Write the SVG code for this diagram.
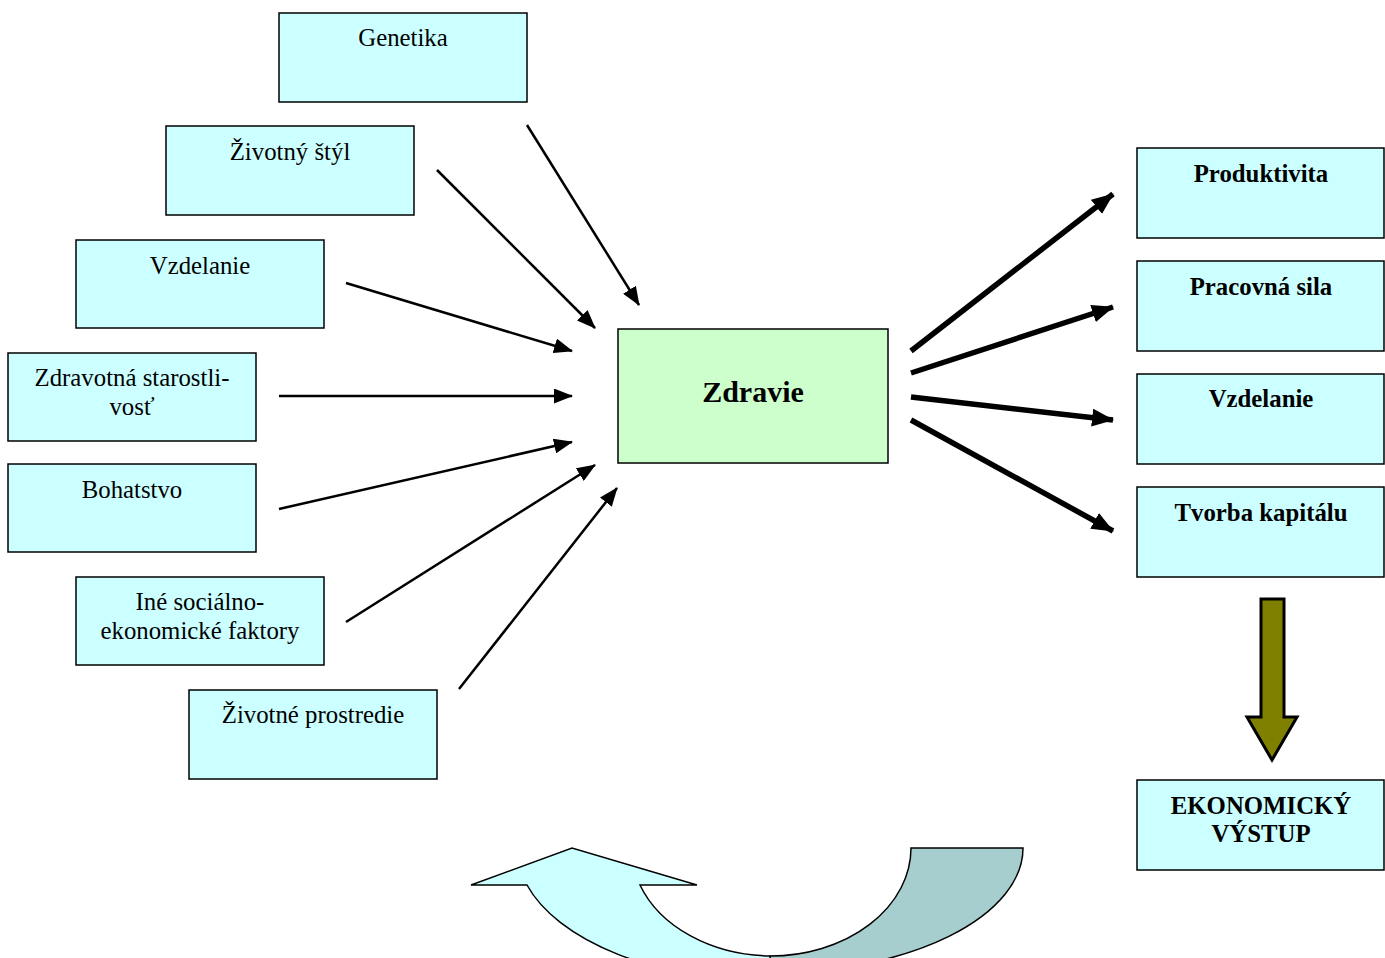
<svg xmlns="http://www.w3.org/2000/svg" width="1385" height="958" viewBox="0 0 1385 958">
<style>
.box{fill:#CCFFFF;stroke:#000;stroke-width:1.5}
.t{font-family:"Liberation Serif","Times New Roman",serif;font-size:24.8px;fill:#000;text-anchor:middle}
.b{font-weight:bold}
.thin{stroke:#000;stroke-width:2.5;fill:none;marker-end:url(#ah)}
.thick{stroke:#000;stroke-width:5.5;fill:none;marker-end:url(#ahb)}
</style>
<defs>
<marker id="ah" markerUnits="userSpaceOnUse" viewBox="0 0 19 15" refX="18" refY="7.5" markerWidth="19" markerHeight="15" orient="auto">
<path d="M0,0 L19,7.5 L0,15 Z" fill="#000"/>
</marker>
<marker id="ahb" markerUnits="userSpaceOnUse" viewBox="0 0 22 18" refX="21" refY="9" markerWidth="22" markerHeight="18" orient="auto">
<path d="M0,0 L22,9 L0,18 Z" fill="#000"/>
</marker>
</defs>
<rect width="1385" height="958" fill="#fff"/>
<g id="genetika"><rect class="box" x="279" y="13" width="248" height="89"/><text class="t" x="403" y="46">Genetika</text></g>
<g id="zivotny-styl"><rect class="box" x="166" y="126" width="248" height="89"/><text class="t" x="290" y="160">Životný štýl</text></g>
<g id="vzdelanie-l"><rect class="box" x="76" y="240" width="248" height="88"/><text class="t" x="200" y="274">Vzdelanie</text></g>
<g id="zdravotna"><rect class="box" x="8" y="353" width="248" height="88"/><text class="t" x="132" y="386">Zdravotná starostli-</text><text class="t" x="132" y="415">vosť</text></g>
<g id="bohatstvo"><rect class="box" x="8" y="464" width="248" height="88"/><text class="t" x="132" y="498">Bohatstvo</text></g>
<g id="ine"><rect class="box" x="76" y="577" width="248" height="88"/><text class="t" x="200" y="610">Iné sociálno-</text><text class="t" x="200" y="639">ekonomické faktory</text></g>
<g id="prostredie"><rect class="box" x="189" y="690" width="248" height="89"/><text class="t" x="313" y="723">Životné prostredie</text></g>
<g id="zdravie"><rect x="618" y="329" width="270" height="134" fill="#CCFFCC" stroke="#000" stroke-width="1.5"/><text class="t b" x="753" y="402" style="font-size:30px">Zdravie</text></g>
<g id="produktivita"><rect class="box" x="1137" y="148" width="247" height="90"/><text class="t b" x="1261" y="182">Produktivita</text></g>
<g id="pracovna"><rect class="box" x="1137" y="261" width="247" height="90"/><text class="t b" x="1261" y="295">Pracovná sila</text></g>
<g id="vzdelanie-r"><rect class="box" x="1137" y="374" width="247" height="90"/><text class="t b" x="1261" y="407">Vzdelanie</text></g>
<g id="tvorba"><rect class="box" x="1137" y="487" width="247" height="90"/><text class="t b" x="1261" y="521">Tvorba kapitálu</text></g>
<g id="ekonomicky"><rect class="box" x="1137" y="780" width="247" height="90"/><text class="t b" x="1261" y="814">EKONOMICKÝ</text><text class="t b" x="1261" y="842">VÝSTUP</text></g>
<g id="connectors">
<line class="thin" x1="527" y1="125" x2="639" y2="305"/>
<line class="thin" x1="437" y1="170" x2="595" y2="328"/>
<line class="thin" x1="346" y1="283" x2="572" y2="351"/>
<line class="thin" x1="279" y1="396" x2="572" y2="396"/>
<line class="thin" x1="279" y1="509" x2="572" y2="442"/>
<line class="thin" x1="346" y1="622" x2="595" y2="465"/>
<line class="thin" x1="459" y1="689" x2="617" y2="488"/>
<line class="thick" x1="911" y1="351" x2="1113" y2="194"/>
<line class="thick" x1="911" y1="373" x2="1113" y2="307"/>
<line class="thick" x1="911" y1="397" x2="1113" y2="420"/>
<line class="thick" x1="911" y1="420" x2="1113" y2="531"/>
<path id="down-arrow" d="M1261,599 L1284,599 L1284,717 L1297,717 L1272,760 L1247,717 L1261,717 Z" fill="#808000" stroke="#000" stroke-width="3" stroke-linejoin="miter"/>
<path id="curve-back" d="M911,848 L1023,848 A253,125 0 0 1 770,973 L770,956 A141,108 0 0 0 911,848 Z" fill="#A6CECE" stroke="#000" stroke-width="1.5"/>
<path id="curve-front" d="M640,885 L697,885 L572,848 L471,885 L527,885 A253,133 0 0 0 770,981 L770,956 A141,108 0 0 1 640,885 Z" fill="#CCFFFF" stroke="#000" stroke-width="1.5"/>
</g>
</svg>
